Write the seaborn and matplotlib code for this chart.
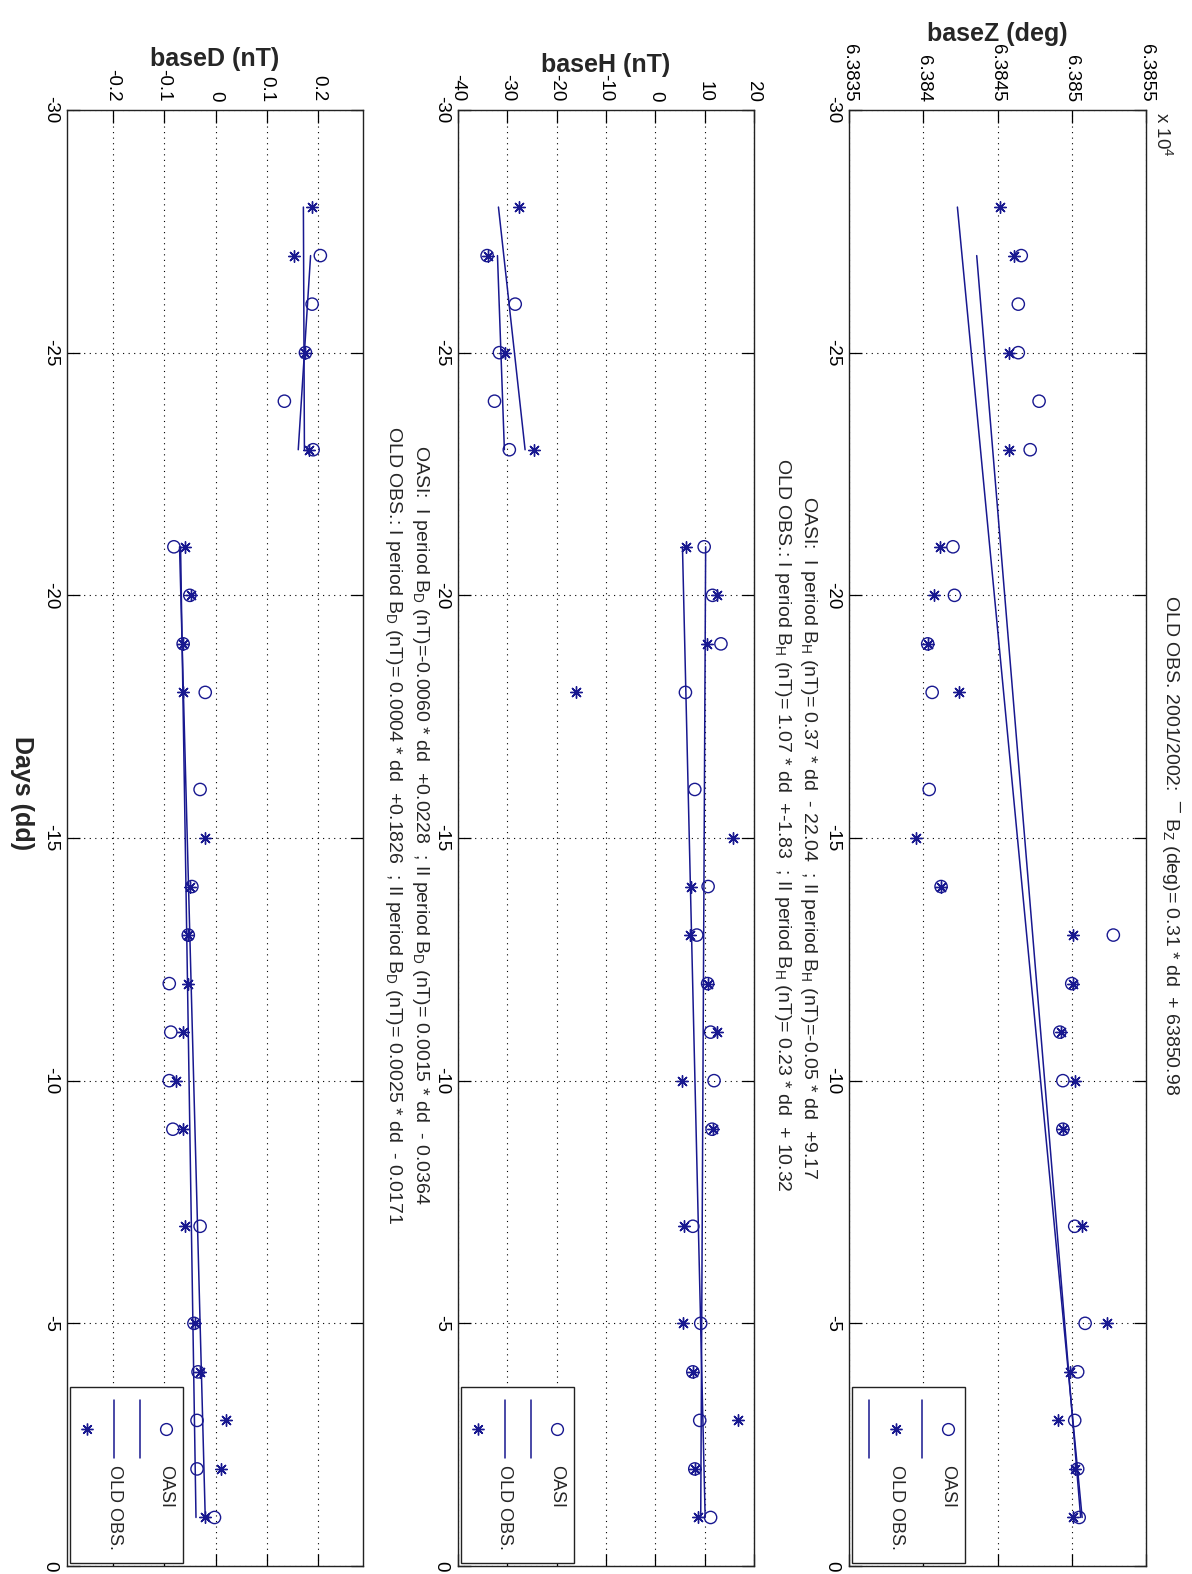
import matplotlib
matplotlib.use("Agg")
import matplotlib.pyplot as plt
import seaborn as sns
from matplotlib.lines import Line2D
from matplotlib.patches import Rectangle

# ---------------- data ----------------
OASI_DAYS = [-27, -26, -25, -24, -23, -21, -20, -19, -18, -16, -14, -13, -12,
             -11, -10, -9, -7, -5, -4, -3, -2, -1]
OLD_DAYS = [-28, -27, -25, -23, -21, -20, -19, -18, -15, -14, -13, -12, -11,
            -10, -9, -7, -5, -4, -3, -2, -1]

Z_OASI = [63846.6, 63846.4, 63846.4, 63847.8, 63847.2, 63842.0, 63842.1, 63840.3,
          63840.6, 63840.4, 63841.2, 63852.8, 63850.0, 63849.2, 63849.4, 63849.4,
          63850.2, 63850.9, 63850.4, 63850.2, 63850.4, 63850.5]
Z_OLD = [63845.2, 63846.1, 63845.8, 63845.8, 63841.1, 63840.7, 63840.3, 63842.4,
         63839.5, 63841.2, 63850.1, 63850.1, 63849.3, 63850.2, 63849.4, 63850.7,
         63852.4, 63849.9, 63849.1, 63850.2, 63850.1]

H_OASI = [-34.1, -28.4, -31.6, -32.6, -29.6, 9.9, 11.6, 13.3, 6.1, 8.0, 10.7, 8.4,
          10.6, 11.2, 11.9, 11.5, 7.6, 9.2, 7.6, 9.0, 8.0, 11.2]
H_OLD = [-27.7, -34.0, -30.4, -24.5, 6.3, 12.5, 10.4, -16.1, 15.8, 7.2, 7.0, 10.7,
         12.4, 5.4, 11.7, 5.8, 5.6, 7.6, 16.7, 8.0, 8.6]

D_OASI = [0.204, 0.188, 0.175, 0.134, 0.190, -0.081, -0.050, -0.063, -0.020, -0.030,
          -0.046, -0.053, -0.090, -0.087, -0.090, -0.083, -0.030, -0.042, -0.034,
          -0.036, -0.036, -0.002]
D_OLD = [0.188, 0.153, 0.175, 0.182, -0.059, -0.048, -0.063, -0.063, -0.020, -0.050,
         -0.053, -0.053, -0.063, -0.076, -0.063, -0.059, -0.040, -0.030, 0.021,
         0.011, -0.021]

# fitted lines: (days, values) end points
Z_FITS = [([-28, -1], [63842.3, 63850.7]), ([-27, -1], [63843.6, 63850.6])]
H_FITS = [([-27, -23], [-32.0, -30.6]), ([-28, -23], [-31.8, -26.4]),
          ([-21, -1], [10.2, 9.2]), ([-21, -1], [5.5, 10.1])]
D_FITS = [([-27, -23], [0.185, 0.161]), ([-28, -23], [0.171, 0.173]),
          ([-21, -1], [-0.068, -0.038]), ([-21, -1], [-0.070, -0.020])]

DAY_TICKS = [-30, -25, -20, -15, -10, -5, 0]
DAY_LABELS = ["-30", "-25", "-20", "-15", "-10", "-5", "0"]
Z_TICKS = [63835, 63840, 63845, 63850, 63855]
Z_LABELS = ["6.3835", "6.384", "6.3845", "6.385", "6.3855"]
H_TICKS = [-40, -30, -20, -10, 0, 10, 20]
H_LABELS = ["-40", "-30", "-20", "-10", "0", "10", "20"]
D_TICKS = [-0.2, -0.1, 0.0, 0.1, 0.2]
D_LABELS = ["-0.2", "-0.1", "0", "0.1", "0.2"]

Z_TITLE = "OLD OBS. 2001/2002:  \u00af B$_{\\rm Z}$ (deg)= 0.31 * dd  + 63850.98"
H_TITLE1 = "OASI:  I period B$_{\\rm H}$ (nT)= 0.37 * dd  - 22.04  ; II period B$_{\\rm H}$ (nT)=-0.05 * dd  +9.17"
H_TITLE2 = "OLD OBS.: I period B$_{\\rm H}$ (nT)= 1.07 * dd  +-1.83  ; II period B$_{\\rm H}$ (nT)= 0.23 * dd  + 10.32"
D_TITLE1 = "OASI:  I period B$_{\\rm D}$ (nT)=-0.0060 * dd  +0.0228  ; II period B$_{\\rm D}$ (nT)= 0.0015 * dd  - 0.0364"
D_TITLE2 = "OLD OBS.: I period B$_{\\rm D}$ (nT)= 0.0004 * dd  +0.1826  ; II period B$_{\\rm D}$ (nT)= 0.0025 * dd  - 0.0171"

# ---------------- style ----------------
sns.set_style("white")
plt.rcParams["font.family"] = ["Liberation Sans", "DejaVu Sans"]
plt.rcParams["mathtext.fontset"] = "custom"
plt.rcParams["mathtext.rm"] = "Liberation Sans"
plt.rcParams["mathtext.it"] = "Liberation Sans:italic"
plt.rcParams["mathtext.bf"] = "Liberation Sans:bold"
plt.rcParams["axes.unicode_minus"] = False

BLUE = "#181890"
SPINE = "#222222"
FS_TICK = 13.5
FS_TITLE = 14
FS_LEG = 13

W, H = 1192, 1574
fig = plt.figure(figsize=(W / 100, H / 100), dpi=100)
fig.patch.set_facecolor("white")


def fx(x):
    return x / W


def fy(y):
    return 1 - y / H


def rect(x0, y0, x1, y1):
    return [x0 / W, 1 - y1 / H, (x1 - x0) / W, (y1 - y0) / H]


def panel(box, xlim, xticks, xlabels, label, oasi, old, fits):
    ax = fig.add_axes(rect(*box))
    for days, vals in fits:
        sns.lineplot(x=vals, y=days, ax=ax, color=BLUE, lw=1.1, sort=False,
                     estimator=None, legend=False, zorder=2)
    sns.scatterplot(x=oasi, y=OASI_DAYS, ax=ax, marker="o", s=78,
                    facecolors="none", edgecolor=BLUE, linewidth=1.0,
                    legend=False, zorder=3)
    sns.scatterplot(x=old, y=OLD_DAYS, ax=ax, marker=(8, 2, 0), s=70,
                    color=BLUE, linewidth=1.0, legend=False, zorder=3)
    ax.set_xlim(*xlim)
    ax.set_ylim(0, -30)
    ax.set_xticks(xticks)
    ax.set_xticklabels(xlabels)
    ax.set_yticks(DAY_TICKS)
    ax.set_yticklabels(DAY_LABELS)
    ax.set_ylabel("")
    ax.tick_params(axis="both", which="major", direction="in", top=True,
                   bottom=True, left=True, right=True, labeltop=True,
                   labelbottom=False, labelleft=True, labelright=False,
                   length=9, width=0.9, pad=6, labelsize=FS_TICK, colors="black")
    for t in ax.get_xticklabels():
        t.set_rotation(-90)
        t.set_ha("center")
        t.set_va("bottom")
    for t in ax.get_yticklabels():
        t.set_rotation(-90)
        t.set_ha("right")
        t.set_va("center")
    ax.xaxis.set_label_position("top")
    ax.set_xlabel(label, fontsize=18, fontweight="bold", labelpad=2)
    ax.grid(True, color="black", linestyle=(0, (1, 4)), linewidth=0.8)
    for sp in ax.spines.values():
        sp.set_color(SPINE)
        sp.set_linewidth(1.0)
        sp.set_visible(True)
    return ax


def legend(x0, entries):
    y0, y1 = 1387, 1563
    fig.add_artist(Rectangle((fx(x0), fy(y1)), 113 / W, (y1 - y0) / H,
                             transform=fig.transFigure, fc="white", ec=SPINE,
                             lw=1.0, zorder=5))
    offsets = [96, 70, 44, 17]
    for (kind, text), off in zip(entries, offsets):
        x = fx(x0 + off)
        if kind == "o":
            fig.add_artist(Line2D([x], [fy(1429)], marker="o", mfc="none",
                                  mec=BLUE, ms=8.5, mew=1.0, ls="",
                                  transform=fig.transFigure, zorder=6))
        elif kind == "*":
            fig.add_artist(Line2D([x], [fy(1429)], marker=(8, 2, 0), color=BLUE,
                                  ms=8.5, mew=1.0, ls="",
                                  transform=fig.transFigure, zorder=6))
        else:
            fig.add_artist(Line2D([x, x], [fy(1400), fy(1458)], color=BLUE,
                                  lw=1.1, transform=fig.transFigure, zorder=6))
        if text:
            fig.text(x, fy(1465), text, rotation=-90, ha="center", va="top",
                     fontsize=FS_LEG, zorder=7)


axZ = panel((849, 110, 1146, 1566), (63835, 63855), Z_TICKS, Z_LABELS,
            "baseZ (deg)", Z_OASI, Z_OLD, Z_FITS)
axH = panel((458, 110, 754, 1566), (-40, 20), H_TICKS, H_LABELS,
            "baseH (nT)", H_OASI, H_OLD, H_FITS)
axD = panel((67, 110, 363, 1566), (-0.289, 0.287), D_TICKS, D_LABELS,
            "baseD (nT)", D_OASI, D_OLD, D_FITS)

legend(852, [("o", "OASI"), ("-", ""), ("*", "OLD OBS."), ("-", "")])
legend(461, [("o", "OASI"), ("-", ""), ("-", "OLD OBS."), ("*", "")])
legend(70, [("o", "OASI"), ("-", ""), ("-", "OLD OBS."), ("*", "")])

fig.text(fx(1152), fy(112), "x 10$^{4}$", rotation=-90, ha="left", va="top",
         fontsize=FS_TICK)
fig.text(fx(1172), fy(845), Z_TITLE, rotation=-90, ha="center", va="center",
         fontsize=FS_TITLE)
fig.text(fx(808), fy(838), H_TITLE1, rotation=-90, ha="center", va="center",
         fontsize=FS_TITLE)
fig.text(fx(782), fy(825), H_TITLE2, rotation=-90, ha="center", va="center",
         fontsize=FS_TITLE)
fig.text(fx(420), fy(825), D_TITLE1, rotation=-90, ha="center", va="center",
         fontsize=FS_TITLE)
fig.text(fx(393), fy(825), D_TITLE2, rotation=-90, ha="center", va="center",
         fontsize=FS_TITLE)
fig.text(fx(22), fy(793), "Days (dd)", rotation=-90, ha="center", va="center",
         fontsize=18, fontweight="bold")

fig.savefig("out.png", dpi=100, facecolor="white")
